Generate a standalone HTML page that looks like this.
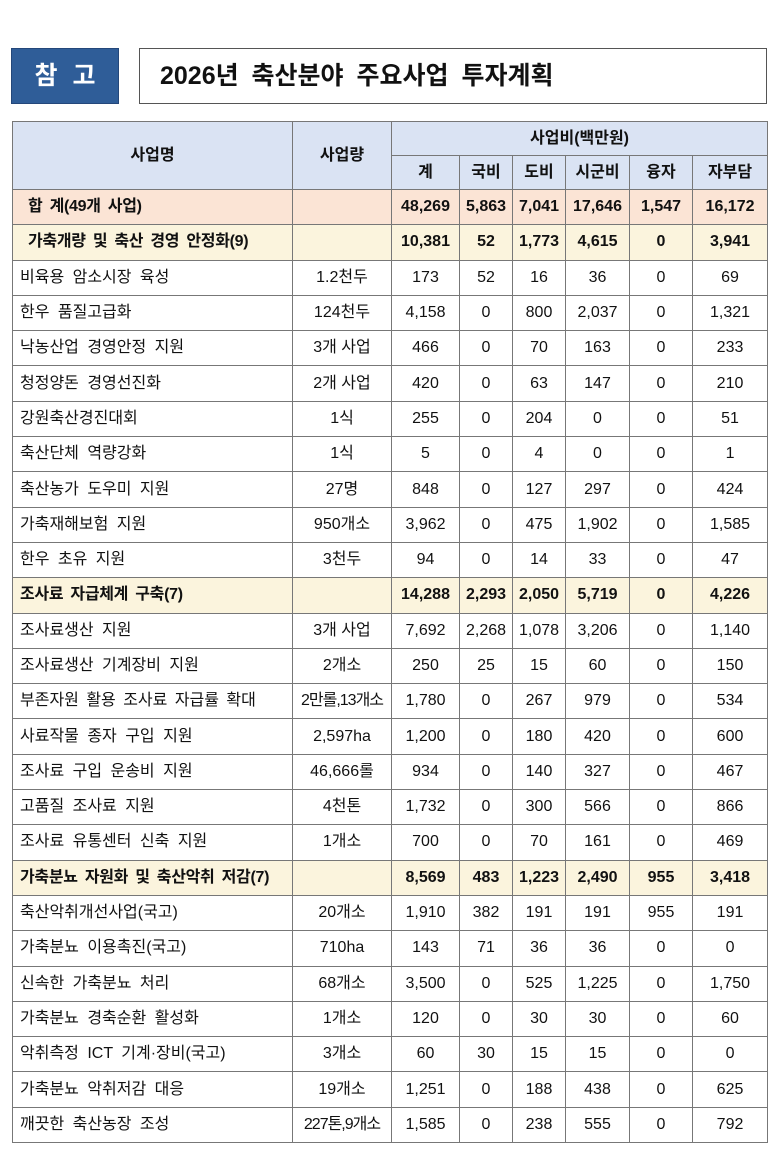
<!DOCTYPE html>
<html><head><meta charset="utf-8"><style>
body{margin:0;width:779px;height:1151px;background:#fff;position:relative;font-family:"Liberation Sans","Noto Sans CJK KR",sans-serif;color:#111}
.blue{position:absolute;left:11px;top:48px;width:108px;height:56px;background:#2f5d98;border:1px solid #24477a;box-sizing:border-box;color:#fff;font-size:25px;font-weight:bold;text-align:center;line-height:54px;word-spacing:8px}
.title{position:absolute;left:139px;top:48px;width:628px;height:56px;border:1px solid #555;box-sizing:border-box;font-size:25px;font-weight:bold;line-height:54px;padding-left:20px;word-spacing:6px}
table{position:absolute;left:12px;top:121px;border-collapse:collapse;table-layout:fixed;width:755px;font-size:16px}
td{border:1px solid #777;text-align:center;padding:0;white-space:nowrap;overflow:hidden;line-height:16px;vertical-align:middle}
tr.h td{background:#dae3f3;font-weight:bold;height:33px}
tr.r td{height:34.3px}
td.n{text-align:left;padding-left:7px;word-spacing:4px}
tr.t td{background:#fbe4d5;font-weight:bold}
tr.s td{background:#fbf4dd;font-weight:bold}
tr.t td.n,tr.s td.n{word-spacing:3px;letter-spacing:-0.3px}
</style></head><body>
<div class="blue">참 고</div>
<div class="title">2026년 축산분야 주요사업 투자계획</div>
<table>
<colgroup><col style="width:280px"><col style="width:99px"><col style="width:68px"><col style="width:53px"><col style="width:53px"><col style="width:64px"><col style="width:63px"><col style="width:75px"></colgroup>
<tr class="h"><td rowspan="2">사업명</td><td rowspan="2">사업량</td><td colspan="6">사업비(백만원)</td></tr>
<tr class="h"><td>계</td><td>국비</td><td>도비</td><td>시군비</td><td>융자</td><td>자부담</td></tr>
<tr class="r t"><td class="n" style="padding-left:15px">합 계(49개 사업)</td><td></td><td>48,269</td><td>5,863</td><td>7,041</td><td>17,646</td><td>1,547</td><td>16,172</td></tr>
<tr class="r s"><td class="n" style="padding-left:15px">가축개량 및 축산 경영 안정화(9)</td><td></td><td>10,381</td><td>52</td><td>1,773</td><td>4,615</td><td>0</td><td>3,941</td></tr>
<tr class="r"><td class="n">비육용 암소시장 육성</td><td>1.2천두</td><td>173</td><td>52</td><td>16</td><td>36</td><td>0</td><td>69</td></tr>
<tr class="r"><td class="n">한우 품질고급화</td><td>124천두</td><td>4,158</td><td>0</td><td>800</td><td>2,037</td><td>0</td><td>1,321</td></tr>
<tr class="r"><td class="n">낙농산업 경영안정 지원</td><td>3개 사업</td><td>466</td><td>0</td><td>70</td><td>163</td><td>0</td><td>233</td></tr>
<tr class="r"><td class="n">청정양돈 경영선진화</td><td>2개 사업</td><td>420</td><td>0</td><td>63</td><td>147</td><td>0</td><td>210</td></tr>
<tr class="r"><td class="n">강원축산경진대회</td><td>1식</td><td>255</td><td>0</td><td>204</td><td>0</td><td>0</td><td>51</td></tr>
<tr class="r"><td class="n">축산단체 역량강화</td><td>1식</td><td>5</td><td>0</td><td>4</td><td>0</td><td>0</td><td>1</td></tr>
<tr class="r"><td class="n">축산농가 도우미 지원</td><td>27명</td><td>848</td><td>0</td><td>127</td><td>297</td><td>0</td><td>424</td></tr>
<tr class="r"><td class="n">가축재해보험 지원</td><td>950개소</td><td>3,962</td><td>0</td><td>475</td><td>1,902</td><td>0</td><td>1,585</td></tr>
<tr class="r"><td class="n">한우 초유 지원</td><td>3천두</td><td>94</td><td>0</td><td>14</td><td>33</td><td>0</td><td>47</td></tr>
<tr class="r s"><td class="n">조사료 자급체계 구축(7)</td><td></td><td>14,288</td><td>2,293</td><td>2,050</td><td>5,719</td><td>0</td><td>4,226</td></tr>
<tr class="r"><td class="n">조사료생산 지원</td><td>3개 사업</td><td>7,692</td><td>2,268</td><td>1,078</td><td>3,206</td><td>0</td><td>1,140</td></tr>
<tr class="r"><td class="n">조사료생산 기계장비 지원</td><td>2개소</td><td>250</td><td>25</td><td>15</td><td>60</td><td>0</td><td>150</td></tr>
<tr class="r"><td class="n" style="word-spacing:3px">부존자원 활용 조사료 자급률 확대</td><td style="letter-spacing:-1px">2만롤,13개소</td><td>1,780</td><td>0</td><td>267</td><td>979</td><td>0</td><td>534</td></tr>
<tr class="r"><td class="n">사료작물 종자 구입 지원</td><td>2,597ha</td><td>1,200</td><td>0</td><td>180</td><td>420</td><td>0</td><td>600</td></tr>
<tr class="r"><td class="n">조사료 구입 운송비 지원</td><td>46,666롤</td><td>934</td><td>0</td><td>140</td><td>327</td><td>0</td><td>467</td></tr>
<tr class="r"><td class="n">고품질 조사료 지원</td><td>4천톤</td><td>1,732</td><td>0</td><td>300</td><td>566</td><td>0</td><td>866</td></tr>
<tr class="r"><td class="n">조사료 유통센터 신축 지원</td><td>1개소</td><td>700</td><td>0</td><td>70</td><td>161</td><td>0</td><td>469</td></tr>
<tr class="r s"><td class="n">가축분뇨 자원화 및 축산악취 저감(7)</td><td></td><td>8,569</td><td>483</td><td>1,223</td><td>2,490</td><td>955</td><td>3,418</td></tr>
<tr class="r"><td class="n">축산악취개선사업(국고)</td><td>20개소</td><td>1,910</td><td>382</td><td>191</td><td>191</td><td>955</td><td>191</td></tr>
<tr class="r"><td class="n">가축분뇨 이용촉진(국고)</td><td>710ha</td><td>143</td><td>71</td><td>36</td><td>36</td><td>0</td><td>0</td></tr>
<tr class="r"><td class="n">신속한 가축분뇨 처리</td><td>68개소</td><td>3,500</td><td>0</td><td>525</td><td>1,225</td><td>0</td><td>1,750</td></tr>
<tr class="r"><td class="n">가축분뇨 경축순환 활성화</td><td>1개소</td><td>120</td><td>0</td><td>30</td><td>30</td><td>0</td><td>60</td></tr>
<tr class="r"><td class="n">악취측정 ICT 기계·장비(국고)</td><td>3개소</td><td>60</td><td>30</td><td>15</td><td>15</td><td>0</td><td>0</td></tr>
<tr class="r"><td class="n">가축분뇨 악취저감 대응</td><td>19개소</td><td>1,251</td><td>0</td><td>188</td><td>438</td><td>0</td><td>625</td></tr>
<tr class="r"><td class="n">깨끗한 축산농장 조성</td><td style="letter-spacing:-1px">227톤,9개소</td><td>1,585</td><td>0</td><td>238</td><td>555</td><td>0</td><td>792</td></tr>
</table>
</body></html>
